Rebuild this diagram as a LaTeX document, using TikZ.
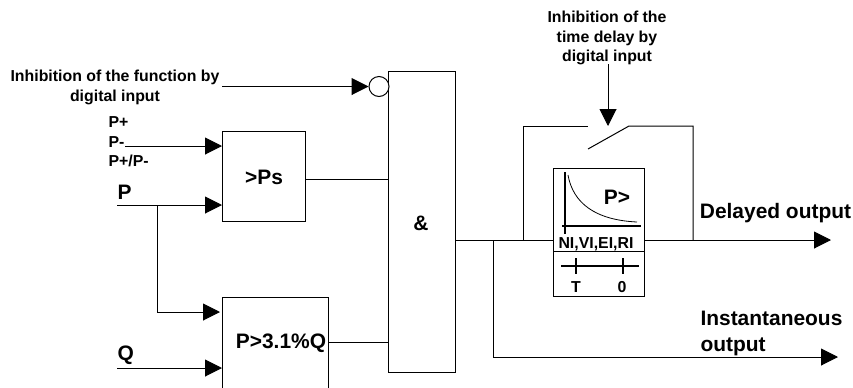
\documentclass[tikz,border=0pt]{standalone}
\usepackage{fontspec}
\setmainfont{Liberation Sans}
\usetikzlibrary{arrows.meta}
\newcommand{\bigfont}{\fontsize{15.7}{19}\selectfont\bfseries}
\newcommand{\smallfont}{\fontsize{11.9}{14.4}\selectfont\bfseries}

\begin{document}
\begin{tikzpicture}[
  x=0.75pt, y=-0.75pt,
  line width=0.75pt,
  blockbox/.style={draw, line width=0.75pt, inner sep=0pt, anchor=north west},
  biglabel/.style={font=\bigfont, inner sep=0pt},
  smalllabel/.style={font=\smallfont, inner sep=0pt, align=center},
  arrow/.style={-{Triangle[length=12.75pt, width=12.75pt]}},
]
\useasboundingbox (0,0) rectangle (853,387);

% Logic blocks
\node[blockbox, minimum width=50.25pt, minimum height=225.75pt] (andbox) at (388,71) {};
\node[biglabel] (andtext) at (421,223) {\&};
\node[blockbox, minimum width=62.25pt, minimum height=67.5pt] (psbox) at (222,131) {};
\node[biglabel] (pstext) at (264,177) {>Ps};
\node[blockbox, minimum width=79.5pt, minimum height=69pt] (pqbox) at (222,297) {};
\node[biglabel] (pqtext) at (281,343) {P>3.1\%Q};
\node[draw, circle, fill=white, inner sep=0pt, minimum size=15pt] (inhcirc) at (379,86.5) {};

% Inputs
\node[smalllabel] (inhtext) at (115,87.5) {Inhibition of the function by\\digital input};
\node[smalllabel, anchor=west] (pplus) at (108,122) {P+};
\node[smalllabel, anchor=west] (pminus) at (108,142) {P-};
\node[smalllabel, anchor=west] (pboth) at (108,161) {P+/P-};
\node[biglabel, anchor=west] (plabel) at (117,192) {P};
\node[biglabel, anchor=west] (qlabel) at (117,355) {Q};

\coordinate (inhstart) at (222,86.5);
\coordinate (pmstart) at (125,146);
\coordinate (pmend) at (222,146);
\coordinate (pstart) at (117,205);
\coordinate (pend) at (222,205);
\coordinate (pbranch) at (157,205);
\coordinate (pqin) at (220,312);
\coordinate (qstart) at (117,368);
\coordinate (qend) at (222,368);

\draw[arrow] (inhstart) -- (inhcirc.west);
\draw[arrow] (pmstart) -- (pmend);
\draw[arrow] (pstart) -- (pend);
\draw[arrow] (pbranch) |- (pqin);
\draw[arrow] (qstart) -- (qend);

% Links into the AND block
\coordinate (psout) at (305,179);
\coordinate (pqout) at (328,342);
\draw (psout) -- (psout -| andbox.west);
\draw (pqout) -- (pqout -| andbox.west);

% Time delay block
\coordinate (andout) at (455,240);
\coordinate (delayend) at (831,240);
\coordinate (instbranch) at (493,240);
\coordinate (instend) at (838,357);
\coordinate (byleft) at (523,240);
\coordinate (byright) at (693,240);
\coordinate (contactl) at (588,126);
\coordinate (contactr) at (629,126);
\coordinate (contactb) at (588,149);
\coordinate (swtip) at (608,126);
\coordinate (swstart) at (608,64);

\draw[arrow] (andout) -- (delayend);
\draw[arrow] (instbranch) |- (instend);
\draw (byleft) |- (contactl);
\draw (byright) |- (contactr) -- (contactb);
\draw[arrow] (swstart) -- (swtip);

\node[blockbox, fill=white, minimum width=68.25pt, minimum height=96pt] (delaybox) at (553,168) {};
\draw (delaybox.west |- 0,251) -- (delaybox.east |- 0,251);

% Curve inside the delay block
\draw[line width=1pt] (565,172) -- (565,234);
\draw[line width=1pt] (562,226) -- (641,226);
\draw[line width=0.6pt] (568,175) .. controls (573,203) and (595,220) .. (637,222);
\node[biglabel] (ptext) at (617,197) {P>};
\node[smalllabel] (curvetext) at (596,244) {NI,VI,EI,RI};

% Time scale
\draw[line width=1pt] (561,266) -- (639,266);
\draw[line width=1pt] (576,258) -- (576,274);
\draw[line width=1pt] (623,258) -- (623,274);
\node[smalllabel] (ttext) at (576,287) {T};
\node[smalllabel] (zerotext) at (622,287) {0};

% Outputs
\node[smalllabel] (swtext) at (607,38) {Inhibition of the\\time delay by\\digital input};
\node[biglabel] (delaytext) at (775.5,213) {Delayed output};
\node[biglabel, anchor=west, align=left] (insttext) at (700,333) {Instantaneous\\[0.5pt]output};
\end{tikzpicture}
\end{document}
